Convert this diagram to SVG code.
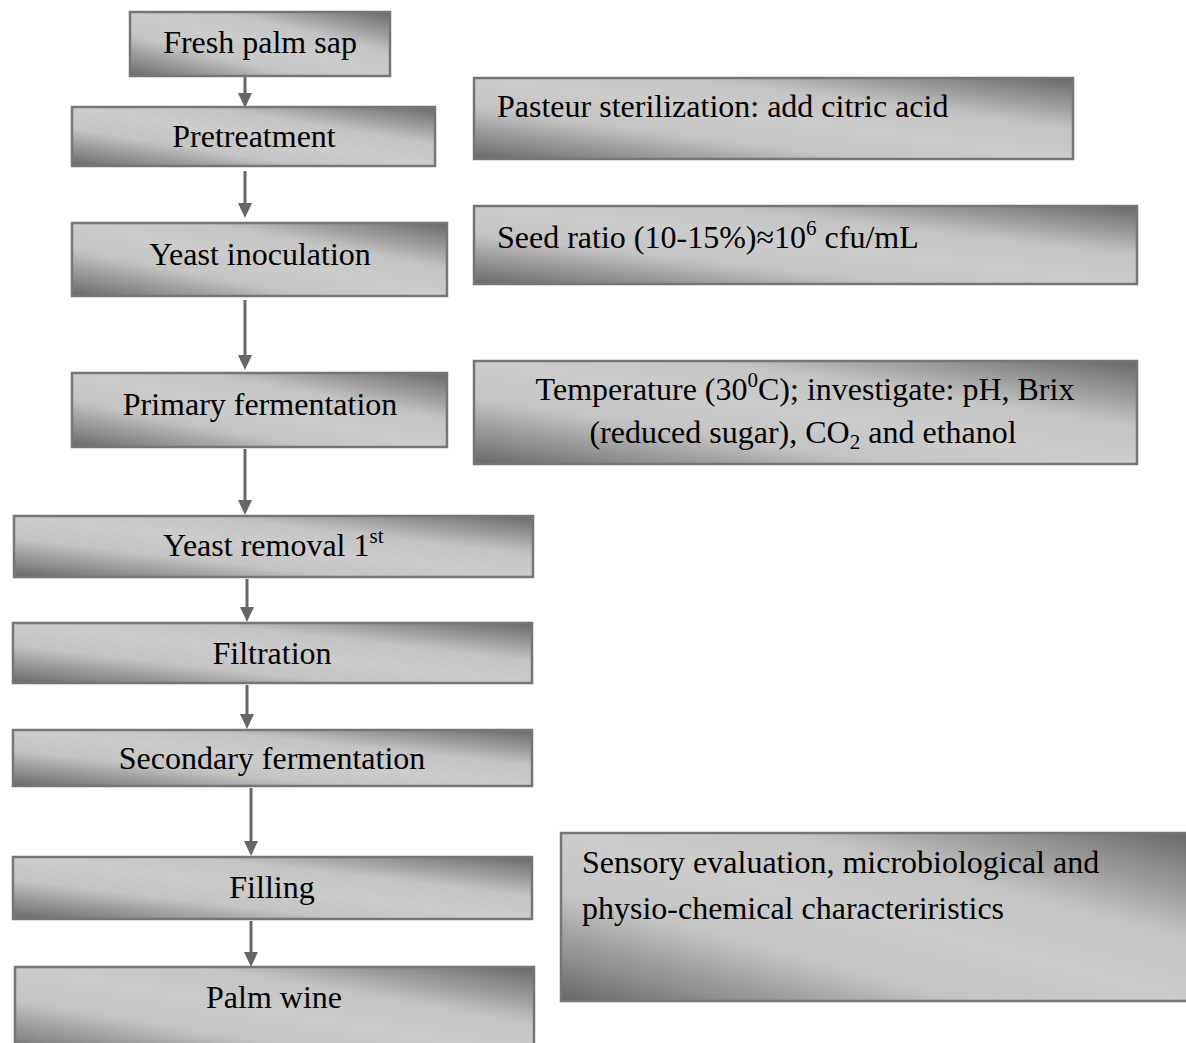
<svg xmlns="http://www.w3.org/2000/svg" width="1186" height="1043" viewBox="0 0 1186 1043">
  <defs>
    <linearGradient id="g" x1="0" y1="1" x2="1" y2="0">
      <stop offset="0" stop-color="#686868"/>
      <stop offset="0.32" stop-color="#c4c4c4"/>
      <stop offset="0.5" stop-color="#cccccc"/>
      <stop offset="0.68" stop-color="#c4c4c4"/>
      <stop offset="1" stop-color="#686868"/>
    </linearGradient>
    <marker id="ah" markerUnits="userSpaceOnUse" markerWidth="15" markerHeight="14" viewBox="0 0 15 14" refX="7" refY="7" orient="auto">
      <path d="M0,0 L15,7 L0,14 z" fill="#666666"/>
    </marker>
  </defs>
  <style>
    .box { fill: url(#g); stroke: #767676; stroke-width: 2.5; }
    .t { font-family: "Liberation Serif", "Times New Roman", serif; font-size: 32px; fill: #000; }
    .c { text-anchor: middle; }
    .con line { stroke: #666666; stroke-width: 3; marker-end: url(#ah); }
  </style>

  <g id="connectors" class="con">
    <line x1="245" y1="76" x2="245" y2="100"/>
    <line x1="245" y1="171" x2="245" y2="210"/>
    <line x1="245" y1="300" x2="245" y2="362"/>
    <line x1="245" y1="449" x2="245" y2="507"/>
    <line x1="247" y1="579" x2="247" y2="614"/>
    <line x1="247" y1="685" x2="247" y2="721"/>
    <line x1="251" y1="788" x2="251" y2="848"/>
    <line x1="251" y1="921" x2="251" y2="959"/>
  </g>

  <g id="n-fresh">
    <rect class="box" x="130" y="12" width="260" height="64"/>
    <text class="t c" x="260" y="53">Fresh palm sap</text>
  </g>
  <g id="n-pretreatment">
    <rect class="box" x="72" y="107" width="363" height="59"/>
    <text class="t c" x="254" y="147">Pretreatment</text>
  </g>
  <g id="n-inoculation">
    <rect class="box" x="72" y="223" width="375" height="73"/>
    <text class="t c" x="260" y="265">Yeast inoculation</text>
  </g>
  <g id="n-primary">
    <rect class="box" x="72" y="373" width="375" height="74"/>
    <text class="t c" x="260" y="415">Primary fermentation</text>
  </g>
  <g id="n-removal">
    <rect class="box" x="14" y="516" width="519" height="61"/>
    <text class="t" x="163" y="556">Yeast removal 1<tspan font-size="21" dy="-13">st</tspan></text>
  </g>
  <g id="n-filtration">
    <rect class="box" x="13" y="623" width="519" height="60"/>
    <text class="t c" x="272" y="664">Filtration</text>
  </g>
  <g id="n-secondary">
    <rect class="box" x="13" y="730" width="519" height="56"/>
    <text class="t c" x="272" y="769">Secondary fermentation</text>
  </g>
  <g id="n-filling">
    <rect class="box" x="13" y="857" width="519" height="62"/>
    <text class="t c" x="272" y="898">Filling</text>
  </g>
  <g id="n-palmwine">
    <rect class="box" x="15" y="967" width="519" height="90"/>
    <text class="t c" x="274" y="1008">Palm wine</text>
  </g>

  <g id="n-pasteur">
    <rect class="box" x="474" y="78" width="599" height="81"/>
    <text class="t" x="497" y="117">Pasteur sterilization: add citric acid</text>
  </g>
  <g id="n-seed">
    <rect class="box" x="474" y="206" width="663" height="78"/>
    <text class="t" x="497" y="248">Seed ratio (10-15%)≈10<tspan font-size="21" dy="-13">6</tspan><tspan dy="13"> cfu/mL</tspan></text>
  </g>
  <g id="n-temperature">
    <rect class="box" x="474" y="361" width="663" height="103"/>
    <text class="t c" x="805" y="400">Temperature (30<tspan font-size="21" dy="-13">0</tspan><tspan dy="13">C); investigate: pH, Brix</tspan></text>
    <text class="t c" x="803" y="443">(reduced sugar), CO<tspan font-size="21" dy="6">2</tspan><tspan dy="-6"> and ethanol</tspan></text>
  </g>
  <g id="n-sensory">
    <rect class="box" x="561" y="833" width="632" height="168"/>
    <text class="t" x="582" y="873">Sensory evaluation, microbiological and</text>
    <text class="t" x="582" y="919">physio-chemical characteriristics</text>
  </g>
</svg>
